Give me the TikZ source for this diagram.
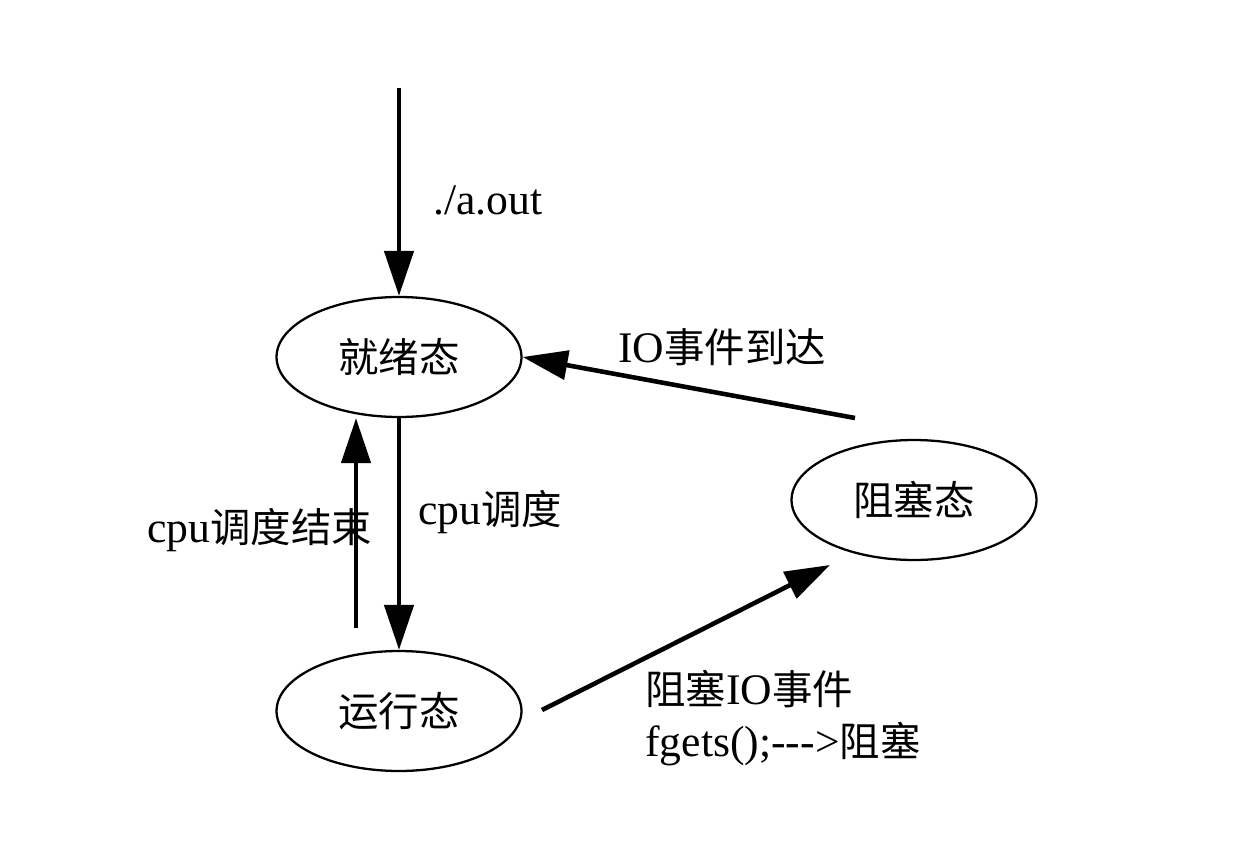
\documentclass[tikz,border=0pt]{standalone}
\usepackage{fontspec}
\setmainfont{Liberation Serif}[Scale=1.08]
\newfontfamily\cjk{Noto Sans CJK SC}
\usetikzlibrary{shapes}
\usetikzlibrary{arrows.meta}

\begin{document}
\begin{tikzpicture}[x=0.02cm,y=-0.02cm,
  state/.style={draw,ellipse,line width=1.3pt,minimum width=4.9cm,minimum height=2.4cm,inner sep=0pt,font=\fontsize{23}{28}\selectfont},
  arr/.style={line width=2.6pt,-{Triangle[length=0.9cm,width=0.58cm]}},
  lbl/.style={font=\fontsize{23}{30}\selectfont,inner sep=0pt,anchor=west,align=left}]
\useasboundingbox (0,0) rectangle (1250,855);
\node[state] (ready) at (399,357) {\cjk 就绪态};
\node[state] (run) at (399,711) {\cjk 运行态};
\node[state] (block) at (914,500) {\cjk 阻塞态};
\coordinate (in) at (399,88);
\coordinate (back) at (356,628);
\coordinate (ioend) at (855,418);
\coordinate (runout) at (542,710);
\coordinate (blockin) at (830,565);
\draw[arr] (in) -- (ready);
\draw[arr] (ready) -- (run);
\draw[arr] (back) -- (back |- ready.south);
\draw[arr] (ioend) -- (ready.east);
\draw[arr] (runout) -- (blockin);
\node[lbl] (aout) at (433,200) {./a.out};
\node[lbl] (ioarr) at (618,347) {IO{\cjk 事件到达}};
\node[lbl] (sched) at (418,512) {cpu{\cjk 调度}};
\node[lbl] (schedend) at (147,530) {cpu{\cjk 调度结束}};
\node[lbl] (blockio) at (645,718) {{\cjk 阻塞}IO{\cjk 事件}\\fgets();{-}{-}{-}>{\cjk 阻塞}};
\end{tikzpicture}
\end{document}
